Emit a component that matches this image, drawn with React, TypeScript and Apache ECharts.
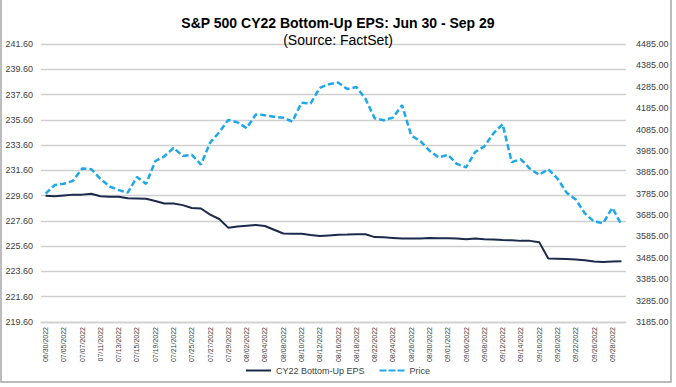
import React, { useEffect, useRef } from "react";
import * as echarts from "echarts";

const dates = [
  "06/30/2022", "07/01/2022", "07/05/2022", "07/06/2022", "07/07/2022", "07/08/2022",
  "07/11/2022", "07/12/2022", "07/13/2022", "07/14/2022", "07/15/2022", "07/18/2022",
  "07/19/2022", "07/20/2022", "07/21/2022", "07/22/2022", "07/25/2022", "07/26/2022",
  "07/27/2022", "07/28/2022", "07/29/2022", "08/01/2022", "08/02/2022", "08/03/2022",
  "08/04/2022", "08/05/2022", "08/08/2022", "08/09/2022", "08/10/2022", "08/11/2022",
  "08/12/2022", "08/15/2022", "08/16/2022", "08/17/2022", "08/18/2022", "08/19/2022",
  "08/22/2022", "08/23/2022", "08/24/2022", "08/25/2022", "08/26/2022", "08/29/2022",
  "08/30/2022", "08/31/2022", "09/01/2022", "09/02/2022", "09/06/2022", "09/07/2022",
  "09/08/2022", "09/09/2022", "09/12/2022", "09/13/2022", "09/14/2022", "09/15/2022",
  "09/16/2022", "09/19/2022", "09/20/2022", "09/21/2022", "09/22/2022", "09/23/2022",
  "09/26/2022", "09/27/2022", "09/28/2022", "09/29/2022",
];

const epsValues = [
  229.6, 229.55, 229.62, 229.68, 229.68, 229.75,
  229.55, 229.52, 229.52, 229.4, 229.38, 229.35,
  229.18, 228.98, 228.98, 228.85, 228.62, 228.58,
  228.1, 227.75, 227.05, 227.15, 227.22, 227.28,
  227.2, 226.9, 226.6, 226.58, 226.58, 226.48,
  226.4, 226.45, 226.5, 226.52, 226.55, 226.55,
  226.32, 226.3, 226.25, 226.2, 226.2, 226.2,
  226.25, 226.22, 226.22, 226.2, 226.15, 226.2,
  226.15, 226.12, 226.08, 226.06, 226.02, 226.02,
  225.92, 224.62, 224.6, 224.58, 224.55, 224.48,
  224.38, 224.35, 224.38, 224.4,
];

const priceValues = [
  3785.38, 3825.33, 3831.39, 3845.08, 3902.62, 3899.38,
  3854.43, 3818.8, 3801.78, 3790.38, 3863.16, 3830.85,
  3936.69, 3959.9, 3998.95, 3961.63, 3966.84, 3921.05,
  4023.61, 4072.43, 4130.29, 4118.63, 4091.19, 4155.17,
  4151.94, 4145.19, 4140.06, 4122.47, 4210.24, 4207.27,
  4280.15, 4297.14, 4305.2, 4274.04, 4283.74, 4228.48,
  4137.99, 4128.73, 4140.77, 4199.12, 4057.66, 4030.61,
  3986.16, 3955.0, 3966.85, 3924.26, 3908.19, 3979.87,
  4006.18, 4067.36, 4110.41, 3932.69, 3946.01, 3901.35,
  3873.33, 3899.89, 3855.93, 3789.93, 3757.99, 3693.23,
  3655.04, 3647.29, 3719.04, 3640.47,
];

const leftTicks = [219.6, 221.6, 223.6, 225.6, 227.6, 229.6, 231.6, 233.6, 235.6, 237.6, 239.6, 241.6];
const rightTicks = [3185, 3285, 3385, 3485, 3585, 3685, 3785, 3885, 3985, 4085, 4185, 4285, 4385, 4485];

const titleText = "S&P 500 CY22 Bottom-Up EPS: Jun 30 - Sep 29";
const subtitleText = "(Source: FactSet)";
const epsName = "CY22 Bottom-Up EPS";
const priceName = "Price";

const FONT = '"Liberation Sans", Arial, sans-serif';
const GRID = "#D0D0D0";
const LABEL = "#404040";
const EPS_COLOR = "#1B2A4A";
const PRICE_COLOR = "#1FA8E8";

const SOLID_ICON = "path://M0,0H25V2H0Z";
const DASH_ICON = "path://M0,0H7V2H0Z M9,0H16V2H9Z M18,0H25V2H18Z";

export default function App() {
  const ref = useRef<HTMLDivElement>(null);

  useEffect(() => {
    if (!ref.current) return;
    const chart = echarts.init(ref.current, null, { renderer: "svg" });
    chart.setOption({
      animation: false,
      backgroundColor: "#ffffff",
      textStyle: { fontFamily: FONT },
      title: {
        text: titleText,
        subtext: subtitleText,
        left: "center",
        top: 10,
        itemGap: 1,
        textStyle: { fontSize: 14, fontWeight: "bold", color: "#000", lineHeight: 16, fontFamily: FONT },
        subtextStyle: { fontSize: 14, color: "#000", lineHeight: 16, fontFamily: FONT },
      },
      legend: {
        top: 366,
        left: "center",
        padding: 0,
        itemWidth: 25,
        itemHeight: 2,
        itemGap: 15,
        textStyle: { fontSize: 9, color: LABEL, fontFamily: FONT },
        data: [
          { name: epsName, icon: SOLID_ICON, itemStyle: { color: EPS_COLOR } },
          { name: priceName, icon: DASH_ICON, itemStyle: { color: PRICE_COLOR } },
        ],
      },
      grid: { left: 41, right: 50, top: 44, bottom: 65, containLabel: false },
      xAxis: {
        type: "category",
        data: dates,
        boundaryGap: true,
        axisLine: { show: true, lineStyle: { color: GRID, width: 1.3 } },
        axisTick: { show: false },
        axisLabel: { rotate: 90, interval: 1, fontSize: 7, color: LABEL, margin: 5, fontFamily: FONT },
        splitLine: { show: false },
      },
      yAxis: [
        {
          type: "value",
          position: "left",
          min: 219.6,
          max: 241.6,
          axisLine: { show: false },
          axisTick: { show: false, customValues: leftTicks },
          axisLabel: {
            customValues: leftTicks,
            formatter: (v: number) => v.toFixed(2),
            fontSize: 9,
            color: LABEL,
            margin: 8,
            fontFamily: FONT,
          },
          splitLine: { show: true, lineStyle: { color: GRID, width: 1.3 } },
        },
        {
          type: "value",
          position: "right",
          min: 3185,
          max: 4485,
          axisLine: { show: false },
          axisTick: { show: false, customValues: rightTicks },
          axisLabel: {
            customValues: rightTicks,
            formatter: (v: number) => v.toFixed(2),
            fontSize: 9,
            color: LABEL,
            margin: 10,
            fontFamily: FONT,
          },
          splitLine: { show: false },
        },
      ],
      series: [
        {
          name: epsName,
          type: "line",
          yAxisIndex: 0,
          data: epsValues,
          symbol: "none",
          lineStyle: { color: EPS_COLOR, width: 2 },
          itemStyle: { color: EPS_COLOR },
        },
        {
          name: priceName,
          type: "line",
          yAxisIndex: 1,
          data: priceValues,
          symbol: "none",
          lineStyle: { color: PRICE_COLOR, width: 2.5, type: [6, 3] },
          itemStyle: { color: PRICE_COLOR },
        },
      ],
      graphic: [
        {
          type: "rect",
          silent: true,
          shape: { x: 1, y: -5, width: 670, height: 387 },
          style: { fill: "none", stroke: "#A6A6A6", lineWidth: 1.5 },
        },
      ],
    });
    return () => chart.dispose();
  }, []);

  return (
    <div
      ref={ref}
      style={{ position: "absolute", left: 0, top: 0, width: 676, height: 387, background: "#fff" }}
    />
  );
}
